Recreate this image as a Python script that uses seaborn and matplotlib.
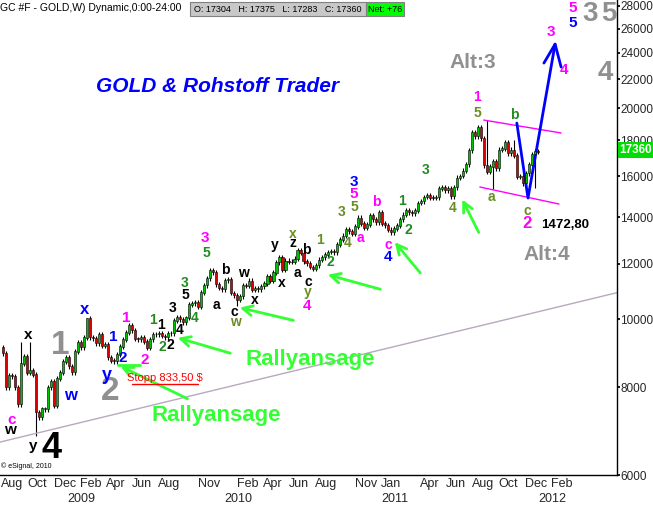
import numpy as np
import pandas as pd
import matplotlib
matplotlib.use("Agg")
import matplotlib.pyplot as plt
import matplotlib.dates as mdates
import seaborn as sns

# ---- data (weekly closes, price x10) ----
closes_2008 = [8950, 8000, 8330, 8300, 8000, 7570, 8650, 8850, 8400, 8450, 8340, 7370, 7250,
               7450, 7450, 8000, 8150, 7530, 8230, 8400, 8700, 8820]
closes_2009 = [8570, 8410, 9000, 9270, 9130, 9420, 10020, 9430, 9400, 9250, 9530, 9180, 9200,
               8830, 8730, 8720, 8910, 9150, 9350, 9580, 9800, 9650, 9380, 9370, 9420, 9300,
               9120, 9370, 9520, 9530, 9560, 9470, 9430, 9560, 9550, 9960, 10080, 10000, 9910,
               10050, 10490, 10550, 10560, 10430, 10920, 11180, 11450, 11750, 11670, 11230, 11090, 11040]
closes_2010 = [11380, 11400, 10910, 10820, 10660, 10790, 11200, 11170, 11350, 11020, 11080, 11050, 11150,
               11250, 11530, 11350, 11660, 12070, 12270, 11780, 12120, 12080, 12080, 12200, 12560, 12440,
               12100, 12020, 11880, 11810, 11950, 12160, 12260, 12370, 12480, 12520, 12460, 12790, 12990,
               13160, 13460, 13350, 13250, 13570, 13960, 13690, 13520, 13650, 14060, 13890, 13750, 14210]
closes_2011 = [13690, 13620, 13420, 13320, 13480, 13600, 13890, 14100, 14300, 14210, 14180, 14290,
               14660, 14740, 14950, 15050, 14920, 14910, 14940, 15360, 15420, 15290, 15400, 14990,
               15430, 15920, 16020, 16290, 16640, 17430, 18500, 18260, 18770, 18120, 16590, 16230, 16520,
               16830, 16420, 17460, 17530, 17880, 17250, 17460, 17130, 15970, 15990, 15650]
closes_2012 = [16160, 16630, 17200, 17380, 17360]
first_open = 9130
extreme_highs = {"2008-09-15": 9300, "2008-10-06": 9300, "2009-02-16": 10060, "2011-09-05": 19230,
                 "2011-11-07": 18030}
extreme_lows = {"2008-10-20": 6810, "2011-12-26": 15390, "2011-09-19": 15350, "2010-02-01": 10450}

trend_prices = [6685, 10920]
chan_up_dates, chan_up_prices = ["2011-08-28", "2012-02-24"], [19250, 18450]
chan_lo_dates, chan_lo_prices = ["2011-08-19", "2012-02-19"], [15450, 14610]
wave_dates, wave_prices = ["2011-11-13", "2011-12-09", "2012-02-10"], [19060, 14900, 24700]
head_dates, head_prices = ["2012-01-15", "2012-02-10", "2012-02-24"], [23210, 24700, 22910]

month_ticks = ["2008-08-01", "2008-10-01", "2008-12-01", "2009-02-01", "2009-04-01", "2009-06-01",
               "2009-08-01", "2009-11-01", "2010-02-01", "2010-04-01", "2010-06-01", "2010-08-01",
               "2010-11-01", "2011-01-01", "2011-04-01", "2011-06-01", "2011-08-01", "2011-10-01",
               "2011-12-01", "2012-02-01"]
month_labels = ["Aug", "Oct", "Dec", "Feb", "Apr", "Jun", "Aug", "Nov", "Feb", "Apr", "Jun", "Aug",
                "Nov", "Jan", "Apr", "Jun", "Aug", "Oct", "Dec", "Feb"]
year_ticks = ["2009-01-01", "2010-01-01", "2011-01-01", "2012-01-01"]
year_labels = ["2009", "2010", "2011", "2012"]
y_ticks = list(range(6000, 28001, 2000))

# ---- build ----
sns.set_theme(style="white")
plt.rcParams["font.family"] = ["Liberation Sans", "DejaVu Sans"]

closes = np.array(closes_2008 + closes_2009 + closes_2010 + closes_2011 + closes_2012, float)
dates = pd.date_range("2008-08-04", periods=len(closes), freq="W-MON")
opens = np.concatenate([[first_open], closes[:-1]])
highs = np.maximum(opens, closes) * 1.008
lows = np.minimum(opens, closes) * 0.992
for d, v in extreme_highs.items():
    i = np.argmin(np.abs((dates - pd.Timestamp(d)).days))
    highs[i] = v
for d, v in extreme_lows.items():
    i = np.argmin(np.abs((dates - pd.Timestamp(d)).days))
    lows[i] = v

W, H = 653, 507
fig = plt.figure(figsize=(W / 100, H / 100), dpi=100)
ax = fig.add_axes([0, 32 / H, 617 / W, 1 - 32 / H])
ax.set_yscale("log")
x0, x1 = pd.Timestamp("2008-07-29"), pd.Timestamp("2012-07-03")
ax.set_xlim(x0, x1)
ax.set_ylim(6000, 28553)

xd = mdates.date2num(dates)
up = closes >= opens
ax.vlines(xd, lows, highs, color="black", lw=0.8, zorder=2)
ax.bar(xd, np.abs(closes - opens) + 15, bottom=np.minimum(opens, closes), width=5,
       color=np.where(up, "#00c000", "#dd0000"), edgecolor="black", linewidth=0.4, zorder=3)

tl = pd.DataFrame({"d": [x0, x1], "p": trend_prices})
sns.lineplot(data=tl, x="d", y="p", color="#b8a8c0", lw=1, ax=ax)
for dd, pp in [(chan_up_dates, chan_up_prices), (chan_lo_dates, chan_lo_prices)]:
    sns.lineplot(x=pd.to_datetime(dd), y=pp, color="#ff00ff", lw=1, ax=ax)
sns.lineplot(x=pd.to_datetime(wave_dates), y=wave_prices, color="#0000ff", lw=2, ax=ax, sort=False)
sns.lineplot(x=pd.to_datetime(head_dates), y=head_prices, color="#0000ff", lw=2, ax=ax, sort=False)

for s in ["top", "left"]:
    ax.spines[s].set_visible(False)
for s in ["right", "bottom"]:
    ax.spines[s].set_color("black")
    ax.spines[s].set_linewidth(1)
ax.yaxis.tick_right()
ax.yaxis.set_minor_locator(matplotlib.ticker.NullLocator())
ax.set_yticks(y_ticks)
ax.set_yticklabels([str(v) for v in y_ticks], fontsize=8.5)
ax.tick_params(axis="y", length=2, pad=0.5, right=True, color="black")
ax.set_xticks(pd.to_datetime(month_ticks))
ax.set_xticklabels(month_labels, ha="left", fontsize=9)
ax.tick_params(axis="x", length=0, pad=2)
for d, lab in zip(year_ticks, year_labels):
    ax.text(pd.Timestamp(d), -0.037, lab, transform=ax.get_xaxis_transform(),
            ha="left", va="top", fontsize=9)
ax.set_xlabel(""); ax.set_ylabel("")
ax.grid(False)

def T(x, y, s, c="black", size=9, weight="bold", **kw):
    fig.text(x / W, 1 - y / H, s, color=c, fontsize=size, fontweight=weight,
             ha=kw.pop("ha", "center"), va=kw.pop("va", "center"), **kw)

# header
T(0, 8, "GC #F - GOLD,W) Dynamic,0:00-24:00", size=7.5, weight="normal", ha="left")
fig.patches.append(plt.Rectangle((190 / W, 1 - 16 / H), 176 / W, 14 / H, transform=fig.transFigure,
                                 facecolor="#c8c8c8", edgecolor="#808080", lw=0.8))
fig.patches.append(plt.Rectangle((366 / W, 1 - 16 / H), 38 / W, 14 / H, transform=fig.transFigure,
                                 facecolor="#00ff00", edgecolor="#808080", lw=0.8))
T(194, 9, "O: 17304   H: 17375   L: 17283   C: 17360", size=6.5, weight="normal", ha="left")
T(385, 9, "Net: +76", size=6.5, weight="normal")
fig.patches.append(plt.Rectangle((618 / W, 1 - 158 / H), 35 / W, 16 / H, transform=fig.transFigure,
                                 facecolor="#00dd00", edgecolor="none", zorder=5))
fig.text(636 / W, 1 - 150 / H, "17360", color="white", fontsize=8.5, fontweight="bold",
         ha="center", va="center", zorder=6)

T(218, 87, "GOLD & Rohstoff Trader", c="#0000ff", size=15, style="italic")
T(310, 360, "Rallyansage", c="#33ff33", size=16)
T(216, 415, "Rallyansage", c="#33ff33", size=16)
T(165, 378, "Stopp 833,50 $", c="#ff0000", size=8, weight="normal")
fig.lines.append(plt.Line2D([132 / W, 198 / W], [1 - 384 / H] * 2, color="red", lw=1, transform=fig.transFigure))
T(1, 466, "© eSignal, 2010", size=5, weight="normal", ha="left")

labels = [
    (12, 420, "c", "#ff00ff", 11), (10, 430, "w", "black", 11), (33, 446, "y", "black", 11),
    (52, 448, "4", "black", 26), (28, 335, "x", "black", 11), (60, 346, "1", "#909090", 24),
    (110, 392, "2", "#909090", 24), (70, 395, "w", "#0000ff", 12), (85, 310, "x", "#0000ff", 12),
    (113, 337, "1", "#0000ff", 11), (123, 358, "2", "#0000ff", 11), (107, 376, "y", "#0000ff", 13),
    (126, 318, "1", "#ff00ff", 11), (145, 360, "2", "#ff00ff", 11),
    (153, 320, "1", "#228b22", 10), (161, 325, "1", "black", 10), (162, 347, "2", "#228b22", 10),
    (170, 345, "2", "black", 10), (173, 308, "3", "black", 10), (180, 330, "4", "black", 10),
    (185, 283, "3", "#228b22", 10), (185, 295, "5", "black", 10), (195, 318, "4", "#228b22", 10),
    (205, 238, "3", "#ff00ff", 11), (206, 253, "5", "#228b22", 10),
    (225, 270, "b", "black", 10), (216, 305, "a", "black", 10), (243, 273, "w", "black", 10),
    (234, 312, "c", "black", 10), (235, 322, "w", "#6b8e23", 10), (255, 300, "x", "black", 10),
    (275, 245, "y", "black", 10), (282, 283, "x", "black", 10), (293, 234, "x", "#6b8e23", 10),
    (293, 243, "z", "black", 10), (306, 250, "b", "black", 10), (297, 273, "a", "black", 10),
    (308, 282, "c", "black", 10), (308, 292, "y", "#6b8e23", 10), (307, 306, "4", "#ff00ff", 11),
    (320, 240, "1", "#6b8e23", 10), (330, 262, "2", "#228b22", 10), (342, 212, "3", "#6b8e23", 10),
    (348, 243, "4", "#6b8e23", 10), (354, 207, "5", "#6b8e23", 10), (354, 194, "5", "#ff00ff", 11),
    (354, 182, "3", "#0000ff", 11), (360, 238, "a", "#ff00ff", 10), (376, 202, "b", "#ff00ff", 10),
    (388, 245, "c", "#ff00ff", 10), (388, 257, "4", "#0000ff", 11), (402, 201, "1", "#228b22", 10),
    (408, 230, "2", "#228b22", 10), (426, 170, "3", "#228b22", 10), (453, 208, "4", "#6b8e23", 10),
    (477, 97, "1", "#ff00ff", 10), (477, 113, "5", "#6b8e23", 10), (514, 115, "b", "#228b22", 10),
    (491, 197, "a", "#6b8e23", 10), (527, 211, "c", "#6b8e23", 10), (527, 224, "2", "#ff00ff", 12),
    (551, 32, "3", "#ff00ff", 11), (564, 70, "4", "#ff00ff", 11), (573, 8, "5", "#ff00ff", 11),
    (573, 23, "5", "#0000ff", 11), (590, 14, "3", "#909090", 20), (609, 14, "5", "#909090", 20),
    (605, 73, "4", "#909090", 20),
]
for x, y, s, c, sz in labels:
    T(x, y, s, c=c, size=sz)
T(565, 225, "1472,80", size=9.5)
T(473, 63, "Alt:3", c="#909090", size=15)
T(547, 255, "Alt:4", c="#909090", size=15)

arrows = [((118, 365), (190, 400)), ((175, 337), (233, 354)), ((237, 307), (296, 321)),
          ((325, 274), (383, 290)), ((393, 240), (422, 275)), ((461, 197), (480, 235))]
for (tx, ty), (sx, sy) in arrows:
    fig.add_artist(matplotlib.patches.FancyArrowPatch(
        (sx / W, 1 - sy / H), (tx / W, 1 - ty / H), transform=fig.transFigure,
        arrowstyle="->,head_length=7,head_width=3.5", color="#33ff33", lw=2))
fig.lines.append(plt.Line2D([118 / W, 140 / W], [1 - 365 / H] * 2, color="#33ff33", lw=2,
                            transform=fig.transFigure))

fig.savefig("out.png", dpi=100)
